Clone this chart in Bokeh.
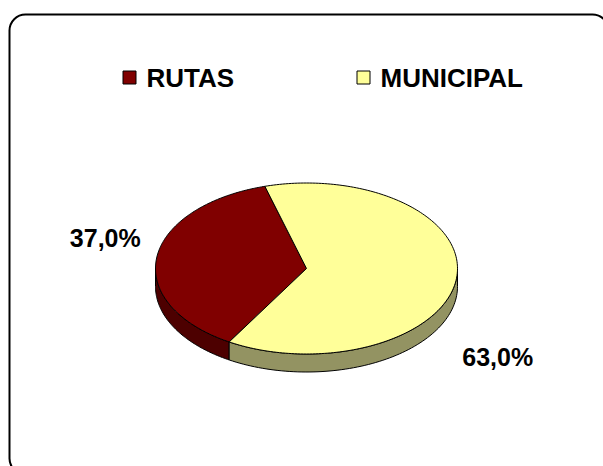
import numpy as np
from bokeh.plotting import figure
from bokeh.models import Range1d, BoxAnnotation
from bokeh.embed import file_html
from bokeh.resources import INLINE
from bokeh.core.properties import value

# ---- data ----
categories = ["RUTAS", "MUNICIPAL"]
values = [37.0, 63.0]
pct_labels = ["37,0%", "63,0%"]
top_colors = ["#800000", "#FFFF99"]
side_colors = ["#4D0000", "#939362"]

# ---- layout ----
W, H = 603, 466
CX, CY, RX, RY, DEPTH = 306.0, 268.0, 151.0, 85.5, 18.0
START = 106.0
FONT = value("Liberation Sans")

p = figure(width=W, height=H, x_range=Range1d(0, W), y_range=Range1d(H, 0),
           output_backend="svg", toolbar_location=None, min_border=0,
           x_axis_location=None, y_axis_location=None)
p.grid.visible = False
p.outline_line_color = None
p.background_fill_color = "white"
p.border_fill_color = "white"

frame = BoxAnnotation(left=9, right=608, top=14, bottom=474, border_radius=16,
                      fill_alpha=0, line_color="black", line_alpha=1.0,
                      line_width=2)
p.add_layout(frame)


def pt(a, dy=0.0):
    r = np.radians(a)
    return CX + RX * np.cos(r), CY - RY * np.sin(r) + dy


total = float(sum(values))
spans = []
a = START
for v in values:
    b = a + 360.0 * v / total
    spans.append((a, b))
    a = b

# sides (front half only)
sx, sy, sc = [], [], []
for (a0, a1), col in zip(spans, side_colors):
    for k in range(-1, 3):
        lo, hi = max(a0, 180 + 360 * k), min(a1, 360 + 360 * k)
        if hi > lo:
            t = np.linspace(lo, hi, 80)
            xt, yt = pt(t)
            xb, yb = pt(t[::-1], DEPTH)
            sx.append(list(xt) + list(xb))
            sy.append(list(yt) + list(yb))
            sc.append(col)
p.patches(sx, sy, fill_color=sc, line_color="black", line_width=1)

# top faces
tx, ty = [], []
for (a0, a1) in spans:
    t = np.linspace(a0, a1, 200)
    xs, ys = pt(t)
    tx.append([CX] + list(xs))
    ty.append([CY] + list(ys))
p.patches(tx, ty, fill_color=top_colors, line_color="black", line_width=1)

# percentage labels, placed relative to each slice's outer edge
mids = [(a0 + a1) / 2 for a0, a1 in spans]
offsets = [(-16, -19.5, "right"), (6, 77, "left")]
lx, ly, la = [], [], []
for m, (ox, oy, al) in zip(mids, offsets):
    ex, ey = pt(m)
    lx.append(ex + ox)
    ly.append(ey + oy)
    la.append(al)
p.text(x=lx, y=ly, text=pct_labels, text_align=la, text_baseline="middle",
       text_font=FONT, text_font_style="bold", text_font_size="25px",
       text_color="black")

# legend
leg_x = [129, 363]
leg_y = [77, 77]
TEXT_GAP = 17
p.scatter(x=leg_x, y=leg_y, marker="square", size=13, fill_color=top_colors,
          line_color="black", line_width=1)
p.text(x=[x + TEXT_GAP for x in leg_x], y=leg_y, text=categories,
       text_align="left", text_baseline="middle", text_font=FONT,
       text_font_style="bold", text_font_size="26px", text_color="black")

open("out.html", "w").write(file_html(p, INLINE))
